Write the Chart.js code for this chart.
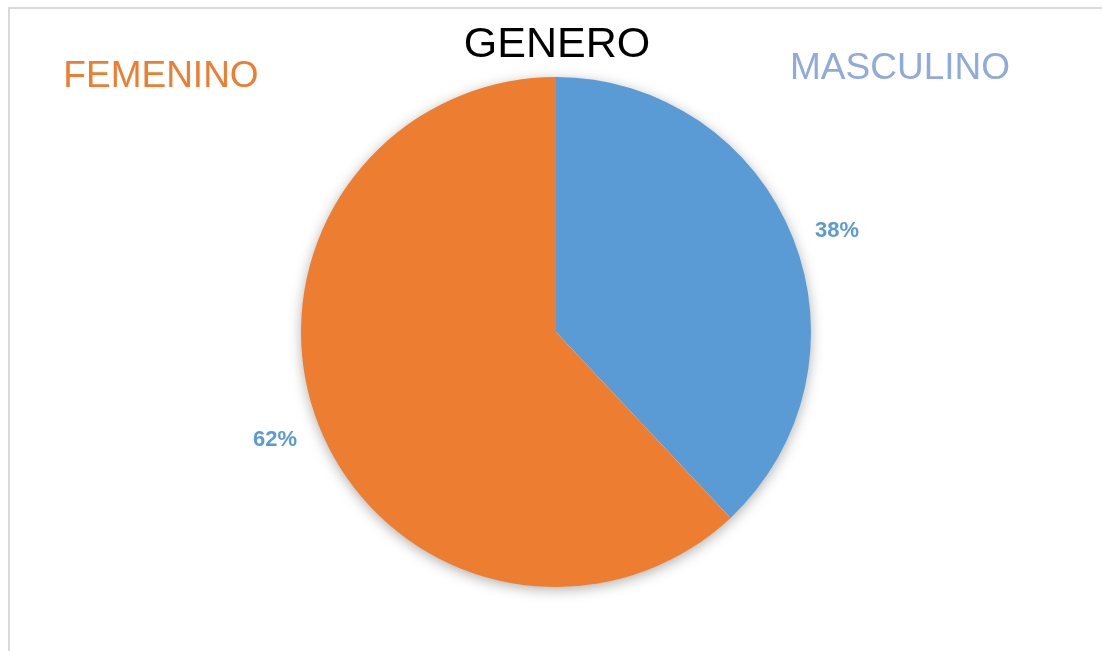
<!DOCTYPE html>
<html>
<head>
<meta charset="utf-8">
<script src="https://cdn.jsdelivr.net/npm/chart.js@4/dist/chart.umd.min.js"></script>
<style>
  html, body { margin: 0; padding: 0; background: #fff; }
  #wrap { position: relative; width: 1102px; height: 651px; }
  #frame {
    position: absolute; left: 8px; top: 7px; right: 0; bottom: 0;
    border-top: 2px solid #d9d9d9; border-left: 2px solid #d9d9d9;
    pointer-events: none;
  }
</style>
</head>
<body>
<div id="wrap">
  <canvas id="mycanvas" width="1102" height="651"></canvas>
  <div id="frame"></div>
</div>
<script>
var chartTitle = 'GENERO';
var labels = ['MASCULINO', 'FEMENINO'];
var values = [38, 62];
var colors = ['#5B9BD5', '#ED7D31'];
var nameColors = ['#8FAADC', '#ED7D31'];

// soft shadow under the pie, like the office chart
var shadowPlugin = {
  id: 'pieShadow',
  beforeDatasetsDraw: function(chart) {
    var arc = chart.getDatasetMeta(0).data[0];
    if (!arc) return;
    var ctx = chart.ctx;
    ctx.save();
    ctx.shadowColor = 'rgba(0,0,0,0.35)';
    ctx.shadowBlur = 14;
    ctx.shadowOffsetY = 3;
    ctx.fillStyle = '#fff';
    ctx.beginPath();
    ctx.arc(arc.x, arc.y, arc.outerRadius - 1, 0, Math.PI * 2);
    ctx.fill();
    ctx.restore();
  }
};

// small nudges so the labels sit where excel put them
var nudge = [[2, 9], [-2, -2]];

var textPlugin = {
  id: 'texts',
  afterDraw: function(chart) {
    var ctx = chart.ctx;
    var meta = chart.getDatasetMeta(0);
    var total = values.reduce(function(a, b) { return a + b; }, 0);
    ctx.save();
    ctx.textAlign = 'center';
    ctx.textBaseline = 'alphabetic';

    ctx.fillStyle = '#000';
    ctx.font = '43px "Liberation Sans", Arial, sans-serif';
    ctx.fillText(chartTitle, 557, 57);

    ctx.font = '37px "Liberation Sans", Arial, sans-serif';
    ctx.fillStyle = nameColors[0];
    ctx.fillText(labels[0], 900, 79);
    ctx.fillStyle = nameColors[1];
    ctx.fillText(labels[1], 161, 87);

    // percent labels outside each slice
    ctx.font = 'bold 22px "Liberation Sans", Arial, sans-serif';
    ctx.textBaseline = 'middle';
    ctx.fillStyle = colors[0];
    meta.data.forEach(function(arc, i) {
      var mid = (arc.startAngle + arc.endAngle) / 2;
      var r = arc.outerRadius + 45;
      var pct = Math.round(values[i] / total * 100) + '%';
      ctx.fillText(pct, arc.x + Math.cos(mid) * r + nudge[i][0], arc.y + Math.sin(mid) * r + nudge[i][1]);
    });
    ctx.restore();
  }
};

var ctx = document.getElementById('mycanvas');
var pieChart = new Chart(ctx, {
  type: 'pie',
  data: {
    labels: labels,
    datasets: [{
      data: values,
      backgroundColor: colors,
      borderWidth: 0
    }]
  },
  options: {
    responsive: false,
    animation: false,
    layout: { padding: { top: 77, bottom: 64, left: 10, right: 0 } },
    plugins: {
      legend: { display: false },
      title: { display: false },
      tooltip: { enabled: false }
    }
  },
  plugins: [shadowPlugin, textPlugin]
});
</script>
</body>
</html>
